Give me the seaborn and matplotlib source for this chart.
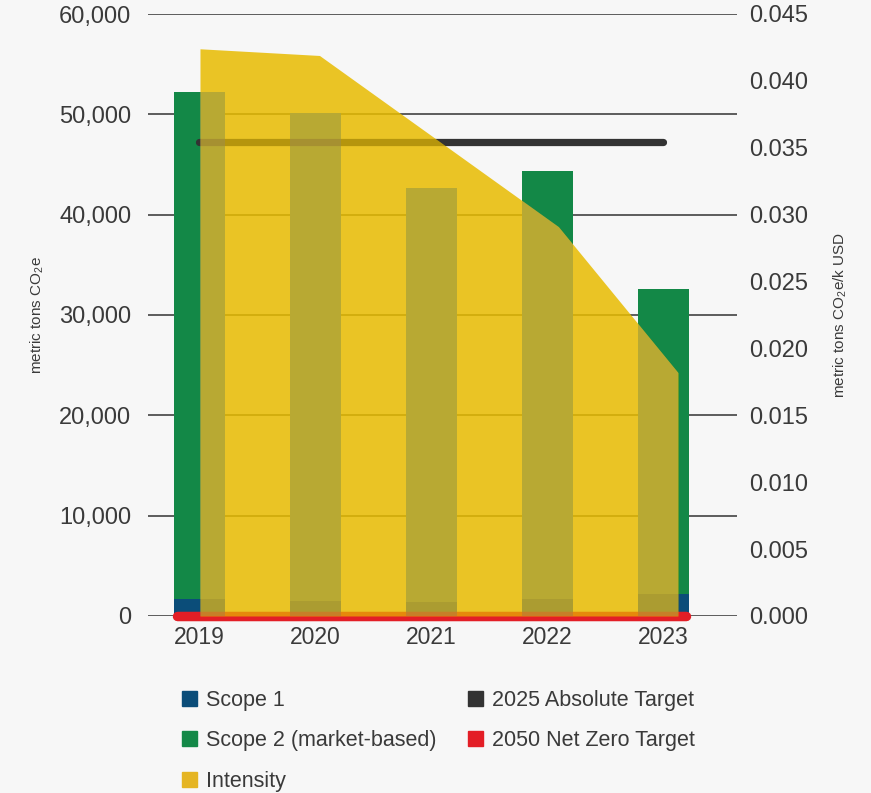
import numpy as np
import pandas as pd
import matplotlib
matplotlib.use("Agg")
import matplotlib.pyplot as plt
from matplotlib.patches import Patch
import seaborn as sns

# ---------------- data ----------------
YEARS = ["2019", "2020", "2021", "2022", "2023"]
SCOPE1 = [1650, 1540, 1430, 1650, 2180]
SCOPE2 = [50550, 48560, 41270, 42750, 30420]
INTENSITY = [0.0424, 0.0419, 0.0355, 0.0291, 0.0182]
TARGET_2025 = 47200
TARGET_2050 = 0
LEFT_TICKS = [0, 10000, 20000, 30000, 40000, 50000, 60000]
RIGHT_TICKS = [0.000, 0.005, 0.010, 0.015, 0.020, 0.025, 0.030, 0.035, 0.040, 0.045]
LEGEND_LEFT = ["Scope 1", "Scope 2 (market-based)", "Intensity"]
LEGEND_RIGHT = ["2025 Absolute Target", "2050 Net Zero Target"]

# ---------------- style ----------------
BG = "#F7F7F7"
BLUE = "#0B4D79"
GREEN = "#138847"
YELLOW = "#E8BC00"
YELLOW_LEG = "#E5B523"
DARK = "#333333"
RED = "#E31E26"
OV_S2 = "#9D9781"
OV_S1 = "#7A826D"
TXT = "#3A3A3A"

sns.set_theme(style="white")
plt.rcParams["font.family"] = ["Liberation Sans", "DejaVu Sans"]
plt.rcParams["mathtext.fontset"] = "custom"
plt.rcParams["mathtext.rm"] = "Liberation Sans"
plt.rcParams["mathtext.it"] = "Liberation Sans"

df = pd.DataFrame({"year": YEARS, "s1": SCOPE1, "s2": SCOPE2})
df["total"] = df["s1"] + df["s2"]

W, H = 871, 793
fig = plt.figure(figsize=(W / 100, H / 100), dpi=100, facecolor=BG)
x0, x1, ytop, ybot = 148, 737, 14, 616
rect = [x0 / W, 1 - ybot / H, (x1 - x0) / W, (ybot - ytop) / H]
ax = fig.add_axes(rect, facecolor=BG)

# bars (stacked: total in green, scope 1 in blue on top at the base)
sns.barplot(data=df, x="year", y="total", color=GREEN, width=0.44, saturation=1,
            errorbar=None, linewidth=0, ax=ax, zorder=2)
sns.barplot(data=df, x="year", y="s1", color=BLUE, width=0.44, saturation=1,
            errorbar=None, linewidth=0, ax=ax, zorder=2)

xs = np.arange(len(YEARS))
ax.plot([xs[0], xs[-1]], [TARGET_2025] * 2, color=DARK, lw=5.2,
        solid_capstyle="round", zorder=3)
ax.plot([xs[0] - 0.19, xs[-1] + 0.19], [TARGET_2050] * 2, color=RED, lw=6.8,
        solid_capstyle="round", zorder=3, clip_on=False)

ax.set_xlim(-0.444, 4.634)
ax.set_ylim(0, 60000)
ax.set_yticks(LEFT_TICKS)
ax.set_yticklabels([f"{v:,}" for v in LEFT_TICKS])
ax.grid(axis="y", color=DARK, lw=1.1, zorder=0)
ax.grid(axis="x", visible=False)
ax.set_axisbelow(True)
for s in ax.spines.values():
    s.set_visible(False)
ax.tick_params(axis="y", length=0, pad=12, labelsize=17, labelcolor=TXT)
ax.tick_params(axis="x", length=0, pad=7, labelsize=16.5, labelcolor=TXT)
ax.set_xlabel("")
ax.set_ylabel("metric tons CO$_2$e", fontsize=11, color=TXT)
ax.yaxis.set_label_coords(-0.173, 0.5)

# intensity area on its own overlaid axes
ax3 = fig.add_axes(rect, facecolor="none")
area = ax3.fill_between(xs, INTENSITY, color=YELLOW, alpha=0.85, lw=0, zorder=1)
ax3.set_xlim(-0.435, 4.494)
ax3.set_ylim(0, 0.045)

# tint the parts of the bars lying under the area
clip = area.get_paths()[0]
ov2 = ax3.bar(xs, df["s2"], bottom=df["s1"], width=0.44, color=OV_S2, alpha=0.35,
              lw=0, transform=ax.transData, zorder=2)
ov1 = ax3.bar(xs, df["s1"], width=0.44, color=OV_S1, alpha=0.35,
              lw=0, transform=ax.transData, zorder=2)
for p in list(ov2) + list(ov1):
    p.set_clip_path(clip, ax3.transData)
ax3.plot([xs[0], xs[-1]], [TARGET_2025] * 2, color=DARK, lw=5.2, alpha=0.15,
         solid_capstyle="round", transform=ax.transData, zorder=3)
ax3.plot([xs[0] - 0.19, xs[-1] + 0.19], [TARGET_2050] * 2, color=RED, lw=6.8,
         alpha=0.2, solid_capstyle="round", transform=ax.transData, zorder=3,
         clip_on=False)
ax3.set_xlim(-0.435, 4.494)
ax3.set_ylim(0, 0.045)

ax3.set_xticks([])
ax3.yaxis.tick_right()
ax3.set_yticks(RIGHT_TICKS)
ax3.set_yticklabels([f"{v:.3f}" for v in RIGHT_TICKS])
ax3.tick_params(axis="y", length=0, pad=9, labelsize=17, labelcolor=TXT)
for s in ax3.spines.values():
    s.set_visible(False)
ax3.yaxis.set_label_position("right")
ax3.set_ylabel("metric tons CO$_2$e/k USD", fontsize=11, color=TXT)
ax3.yaxis.set_label_coords(1.161, 0.5)

# legends
lk = dict(frameon=False, fontsize=15.5, handlelength=0.68, handleheight=0.68,
          handletextpad=0.42, labelspacing=0.9, borderpad=0, borderaxespad=0,
          loc="upper left", labelcolor=TXT)
h_left = [Patch(color=c, label=l) for c, l in zip([BLUE, GREEN, YELLOW_LEG], LEGEND_LEFT)]
h_right = [Patch(color=c, label=l) for c, l in zip([DARK, RED], LEGEND_RIGHT)]
leg1 = fig.legend(handles=h_left, bbox_to_anchor=(182 / W, 1 - 690 / H), **lk)
leg2 = fig.legend(handles=h_right, bbox_to_anchor=(468 / W, 1 - 690 / H), **lk)

fig.savefig("out.png", dpi=100, facecolor=BG)
